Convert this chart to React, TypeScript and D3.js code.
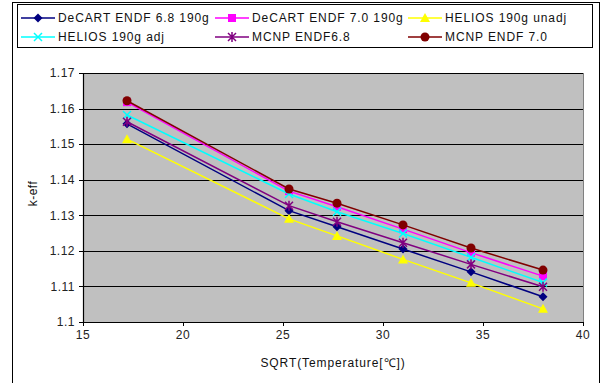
import React from "react";
import * as d3 from "d3";

const xValues = [17.2, 25.3, 27.7, 31.0, 34.4, 38.0];
const seriesNames = [
  "DeCART ENDF 6.8 190g",
  "DeCART ENDF 7.0 190g",
  "HELIOS 190g unadj",
  "HELIOS 190g adj",
  "MCNP ENDF6.8",
  "MCNP ENDF 7.0",
];
const decart68 = [1.1557, 1.1313, 1.1268, 1.1205, 1.1141, 1.1071];
const decart70 = [1.1618, 1.1368, 1.1324, 1.1261, 1.1195, 1.1129];
const heliosUnadj = [1.1514, 1.129, 1.1242, 1.1176, 1.111, 1.1037];
const heliosAdj = [1.1582, 1.136, 1.131, 1.1249, 1.1182, 1.1111];
const mcnp68 = [1.1563, 1.1327, 1.1282, 1.1223, 1.1162, 1.1099];
const mcnp70 = [1.1622, 1.1374, 1.1334, 1.1273, 1.1208, 1.1146];
const seriesValues = [decart68, decart70, heliosUnadj, heliosAdj, mcnp68, mcnp70];
const seriesColors = ["#000080", "#FF00FF", "#FFFF00", "#00FFFF", "#800080", "#800000"];
const seriesMarkers = ["diamond", "square", "triangle", "x", "star", "circle"];
const xTicks = [15, 20, 25, 30, 35, 40];
const yTicks = [1.1, 1.11, 1.12, 1.13, 1.14, 1.15, 1.16, 1.17];
const xTitle = "SQRT(Temperature[℃])";
const yTitle = "k-eff";

const FONT = "'Liberation Sans', Arial, sans-serif";

function Marker({ type, x, y, color }: { type: string; x: number; y: number; color: string }) {
  switch (type) {
    case "diamond":
      return <path d="M0,-4.5L4.5,0L0,4.5L-4.5,0Z" transform={`translate(${x},${y})`} fill={color} />;
    case "square":
      return <rect x={x - 4} y={y - 4} width={8} height={8} fill={color} />;
    case "triangle":
      return <path d="M0,-5L5,4L-5,4Z" transform={`translate(${x},${y})`} fill={color} />;
    case "x":
      return (
        <path d="M-4,-4L4,4M-4,4L4,-4" transform={`translate(${x},${y})`} stroke={color} strokeWidth={1.5} fill="none" />
      );
    case "star":
      return (
        <path
          d="M-4,-4L4,4M-4,4L4,-4M0,-5L0,5"
          transform={`translate(${x},${y})`}
          stroke={color}
          strokeWidth={1.5}
          fill="none"
        />
      );
    case "circle":
      return <circle cx={x} cy={y} r={4.5} fill={color} />;
    default:
      return null;
  }
}

export default function App() {
  const W = 603;
  const H = 383;
  const left = 83;
  const right = 583;
  const top = 73;
  const bottom = 322;
  const x = d3.scaleLinear().domain([15, 40]).range([left, right]);
  const y = d3.scaleLinear().domain([1.1, 1.17]).range([bottom, top]);
  const line = d3
    .line<[number, number]>()
    .x((d) => x(d[0]))
    .y((d) => y(d[1]));

  const legendCols = [21, 215, 408];
  const legendRows = [18, 37];

  return (
    <svg
      width={W}
      height={H}
      style={{ position: "absolute", left: 0, top: 0, background: "#fff" }}
      fontFamily={FONT}
    >
      {/* outer frame */}
      <rect x={12.5} y={2.5} width={587} height={420} fill="#fff" stroke="#000" strokeWidth={1} />
      {/* legend */}
      <rect x={17.5} y={4.5} width={575} height={43} fill="#fff" stroke="#000" strokeWidth={1} />
      {seriesNames.map((name, i) => {
        const cx = legendCols[i % 3];
        const cy = legendRows[Math.floor(i / 3)];
        return (
          <g key={name}>
            <line x1={cx} x2={cx + 34} y1={cy} y2={cy} stroke={seriesColors[i]} strokeWidth={1.5} />
            <Marker type={seriesMarkers[i]} x={cx + 17} y={cy} color={seriesColors[i]} />
            <text x={cx + 37} y={cy} dy="0.36em" fontSize={12} letterSpacing={0.9} fill="#111">
              {name}
            </text>
          </g>
        );
      })}
      {/* plot area */}
      <rect x={left} y={top} width={right - left} height={bottom - top} fill="#C0C0C0" />
      {yTicks.map((t) => (
        <line key={t} x1={left} x2={right} y1={Math.round(y(t)) + 0.5} y2={Math.round(y(t)) + 0.5} stroke="#000" strokeWidth={1} />
      ))}
      <line x1={right + 0.5} x2={right + 0.5} y1={top} y2={bottom} stroke="#808080" strokeWidth={1} />
      {/* axes */}
      <line x1={left + 0.5} x2={left + 0.5} y1={top} y2={bottom + 0.5} stroke="#000" strokeWidth={1.2} />
      <line x1={left} x2={right + 1} y1={bottom + 0.5} y2={bottom + 0.5} stroke="#000" strokeWidth={1.2} />
      {xTicks.map((t) => (
        <g key={t}>
          <line x1={Math.round(x(t)) + 0.5} x2={Math.round(x(t)) + 0.5} y1={bottom} y2={bottom + 4} stroke="#000" />
          <text x={x(t)} y={bottom + 17} textAnchor="middle" fontSize={12} letterSpacing={0.5} fill="#222">
            {t}
          </text>
        </g>
      ))}
      {yTicks.map((t) => (
        <g key={t}>
          <line x1={left - 4} x2={left} y1={Math.round(y(t)) + 0.5} y2={Math.round(y(t)) + 0.5} stroke="#000" />
          <text x={left - 8} y={y(t)} dy="0.36em" textAnchor="end" fontSize={12} letterSpacing={0.5} fill="#222">
            {d3.format(".2~f")(t)}
          </text>
        </g>
      ))}
      <text x={(left + right) / 2} y={363} dy="0.36em" textAnchor="middle" fontSize={12} letterSpacing={0.9} fill="#111">
        {xTitle}
      </text>
      <text
        transform={`translate(33,${(top + bottom) / 2 - 4}) rotate(-90)`}
        textAnchor="middle"
        dy="0.36em"
        fontSize={12}
        letterSpacing={0.5}
        fill="#111"
      >
        {yTitle}
      </text>
      {/* series */}
      {seriesValues.map((vals, i) => {
        const pts = xValues.map((xv, j) => [xv, vals[j]] as [number, number]);
        return (
          <g key={seriesNames[i]}>
            <path d={line(pts) || ""} fill="none" stroke={seriesColors[i]} strokeWidth={1.5} />
            {pts.map((p, j) => (
              <Marker key={j} type={seriesMarkers[i]} x={x(p[0])} y={y(p[1])} color={seriesColors[i]} />
            ))}
          </g>
        );
      })}
    </svg>
  );
}
